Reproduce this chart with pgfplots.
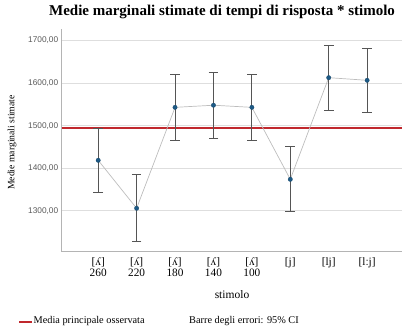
\documentclass[border=0pt]{standalone}
\usepackage{pgfplots}
\pgfplotsset{compat=1.18}
\usepackage{fontspec}
\setmainfont{Liberation Serif}
\newfontfamily\arialf{Liberation Sans}
\definecolor{gridgray}{HTML}{DEDEDE}
\definecolor{axisgray}{HTML}{B4B4B4}
\definecolor{meanred}{HTML}{C0282D}
\definecolor{ptblue}{HTML}{1D5A86}
\definecolor{barsgray}{HTML}{555555}
\definecolor{linegray}{HTML}{BDBDBD}
\begin{document}
\begin{tikzpicture}[x=1pt,y=1pt]
\useasboundingbox (0,0) rectangle (403,330);
% title
\node[font=\bfseries\fontsize{15}{17}\selectfont] at (222,318) {Medie marginali stimate di tempi di risposta * stimolo};
% axis titles
\node[rotate=90,font=\fontsize{9.7}{10}\selectfont] at (12,187.5) {Medie marginali stimate};
\node[font=\fontsize{11.5}{13}\selectfont] at (232,35) {stimolo};
% footer: legend swatch and note
\fill[meanred] (18.5,7.3) rectangle (32,9.5);
\node[anchor=west,font=\fontsize{10.3}{12}\selectfont, inner sep=0pt] at (33.5,8.5) {Media principale osservata};
\node[anchor=west,font=\fontsize{10.3}{12}\selectfont, inner sep=0pt] at (189,8.5) {Barre degli errori: 95\% CI};
\begin{axis}[
  at={(61.7pt,78.3pt)}, anchor=south west,
  scale only axis, width=340pt, height=222.7pt,
  xmin=-0.95, xmax=7.9,
  ymin=1204, ymax=1727,
  axis x line*=bottom, axis y line*=left,
  axis line style={axisgray, line width=0.9pt},
  x axis line style={-}, y axis line style={-},
  ytick={1300,1400,1500,1600,1700},
  ymajorgrids, grid style={gridgray, line width=0.9pt},
  major tick length=0pt,
  xtick={0,...,7},
  xticklabels={{[ʎ]\\260},{[ʎ]\\220},{[ʎ]\\180},{[ʎ]\\140},{[ʎ]\\100},{[j]},{[lj]},{[lːj]}},
  xticklabel style={align=center, anchor=north, font=\fontsize{11.3}{11.3}\selectfont, yshift=-2pt},
  yticklabel style={font=\arialf\fontsize{8.3}{10}\selectfont, text=black!65},
  /pgf/number format/assume math mode=true,
  yticklabel={\pgfmathprintnumber[fixed, fixed zerofill, precision=2, use comma, 1000 sep={}]{\tick}},
  clip=false,
]
% observed grand mean
\addplot[meanred, line width=1.7pt, forget plot] coordinates {(-0.95,1494) (7.9,1494)};
% estimated marginal means with 95% CI
\addplot[linegray, line width=0.7pt,
  mark=*, mark size=2.2pt, mark options={fill=ptblue, draw=ptblue!80!black, line width=0.3pt},
  error bars/.cd, y dir=both, y explicit,
  error bar style={barsgray, line width=0.8pt},
  error mark options={rotate=90, mark size=4.8pt, barsgray, line width=0.8pt}]
coordinates {
  (0,1418.7) += (0,75.3) -= (0,75.0)
  (1,1306.0) += (0,79.0) -= (0,77.4)
  (2,1543.0) += (0,77.7) -= (0,77.3)
  (3,1548.0) += (0,76.5) -= (0,77.6)
  (4,1543.0) += (0,76.7) -= (0,77.0)
  (5,1374.0) += (0,76.7) -= (0,76.0)
  (6,1612.7) += (0,76.0) -= (0,76.7)
  (7,1606.5) += (0,75.9) -= (0,75.9)
};
\end{axis}
\end{tikzpicture}
\end{document}
